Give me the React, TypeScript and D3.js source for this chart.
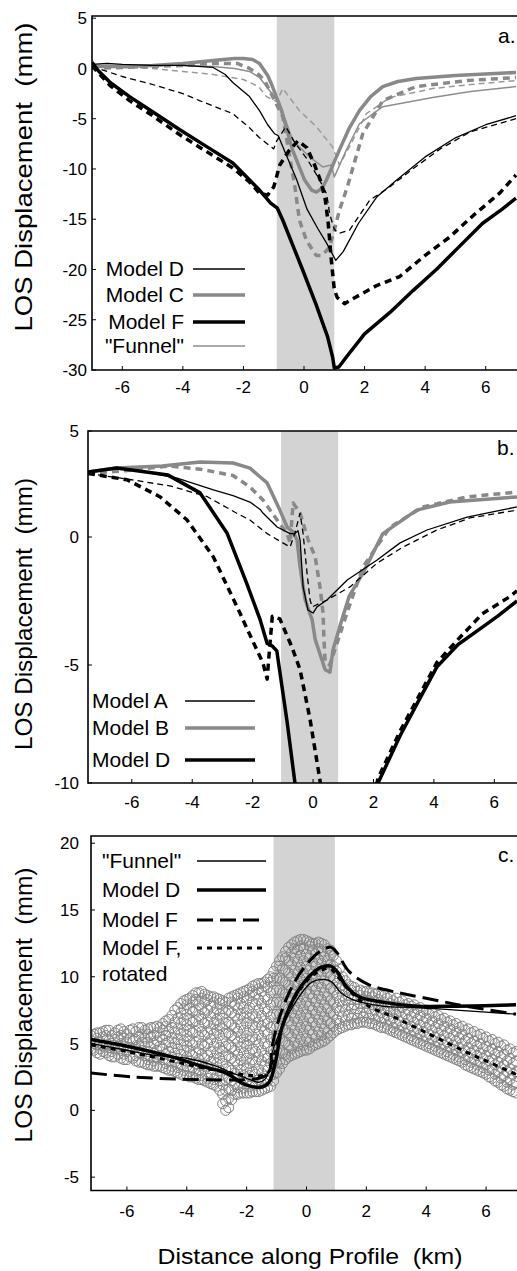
import React from 'react';
import * as d3 from 'd3';

type Pt = [number, number];
const FONT = '"Liberation Sans", Arial, Helvetica, sans-serif';

// ---------- ticks ----------
const xTicks = [-6, -4, -2, 0, 2, 4, 6];
const yTicksA = [5, 0, -5, -10, -15, -20, -25, -30];
const yTicksB = [5, 0, -5, -10];
const yTicksC = [20, 15, 10, 5, 0, -5];

// ---------- shaded zones (km) ----------
const shadeA: Pt = [-0.9, 1.0];
const shadeB: Pt = [-1.06, 0.83];
const shadeC: Pt = [-1.1, 0.95];

// ---------- panel a ----------
const aModelD: Pt[] = [[-7,0.4],[-6.5,0.5],[-6,0.4],[-5,0.3],[-4,0.3],[-3,0.1],[-2.6,-0.6],[-2.35,-1.4],[-1.8,-2.8],[-1.47,-4.2],[-1.2,-5.6],[-0.97,-6.5],[-0.85,-6.7],[-0.6,-8.5],[-0.25,-11],[0.1,-14],[0.45,-15.9],[0.75,-17.4],[1.05,-19.1],[1.3,-18.2],[1.8,-15.4],[2.4,-12.8],[3.06,-11.1],[4,-8.8],[5,-6.9],[6,-5.6],[7,-4.7]];
const aModelDdash: Pt[] = [[-7,0.2],[-6.5,-0.3],[-6,-0.8],[-5.1,-1.5],[-4,-2.5],[-3.45,-3.2],[-2.35,-4.5],[-1.8,-5.9],[-1.47,-6.9],[-1.0,-8.0],[-0.9,-7.2],[-0.6,-5.8],[-0.3,-7.4],[0.1,-9],[0.5,-11],[0.75,-12.5],[0.85,-14.5],[1.0,-16],[1.15,-16.4],[1.5,-16.1],[2.17,-13.1],[2.83,-11.8],[3.5,-10.2],[4.5,-8],[5.5,-6.3],[7,-5]];
const aModelC: Pt[] = [[-7,0.2],[-6,0.2],[-5,0.3],[-4,0.5],[-3,0.8],[-2.3,1.0],[-2,1.0],[-1.7,0.9],[-1.47,0.5],[-1.2,-0.7],[-1.04,-1.8],[-0.74,-4.2],[-0.38,-8.1],[0.02,-11.1],[0.25,-12.1],[0.41,-12.3],[0.6,-11.9],[0.74,-11.1],[1.17,-8.1],[1.5,-5.9],[1.83,-4.2],[2.2,-2.8],[2.6,-1.8],[3.1,-1.3],[3.7,-1.0],[5,-0.7],[7,-0.4]];
const aModelCdash: Pt[] = [[-7,0.0],[-6,0.1],[-5,0.2],[-4,0.3],[-3,0.5],[-2.2,0.5],[-1.8,0.0],[-1.5,-0.6],[-1.3,-1.2],[-0.97,-3.2],[-0.7,-4.8],[-0.3,-11.8],[-0.15,-15.1],[0.08,-17.1],[0.4,-18.6],[0.6,-18.6],[0.84,-17.8],[1.0,-16.1],[1.17,-14.1],[1.43,-11.8],[1.94,-6.5],[2.6,-3.2],[3.7,-1.8],[5.4,-1.2],[7,-0.9]];
const aModelF: Pt[] = [[-7,0.6],[-6.8,-0.2],[-6.4,-1.4],[-5.76,-2.8],[-5,-4.3],[-4.1,-6.1],[-3.2,-7.8],[-2.35,-9.4],[-1.47,-12.1],[-1.1,-13.4],[-0.88,-13.9],[-0.7,-15.1],[-0.05,-20],[0.4,-23.5],[0.78,-26.7],[0.95,-28.8],[1.0,-29.8],[1.15,-29.7],[1.4,-28.7],[2.0,-26.4],[2.83,-24.3],[3.6,-22.1],[4.37,-20],[5.1,-17.8],[5.9,-15.4],[6.5,-14.1],[7.0,-12.9]];
const aModelFdash: Pt[] = [[-7,0.3],[-6.8,-0.4],[-6.4,-1.7],[-5.76,-3.2],[-5,-4.7],[-4.1,-6.6],[-3.2,-8.3],[-2.35,-9.9],[-1.8,-11.3],[-1.47,-12.4],[-1.2,-12.6],[-1.0,-11.8],[-0.8,-9.6],[-0.5,-8.2],[-0.2,-7.2],[0.1,-7.9],[0.35,-9.6],[0.55,-11.2],[0.7,-13.0],[0.8,-15.4],[0.9,-19.0],[1.0,-22.0],[1.1,-22.8],[1.34,-23.4],[1.8,-22.6],[2.4,-21.6],[3.16,-20.7],[4.0,-18.6],[4.8,-16.8],[5.6,-14.6],[6.46,-12.4],[7.0,-10.6]];
const aFunnel: Pt[] = [[-7,0.3],[-5,0.3],[-4,0.3],[-3,0.2],[-2.3,0.0],[-1.8,-0.3],[-1.47,-0.9],[-1.14,-2.2],[-0.8,-3.5],[-0.38,-7.1],[0.18,-8.8],[0.62,-9.8],[0.9,-9.6],[1.0,-10.8],[1.4,-8.1],[1.83,-5.5],[2.6,-3.8],[4.25,-2.9],[5.5,-2.3],[7,-1.8]];
const aFunnelDash: Pt[] = [[-7,0.2],[-5,0.0],[-4,-0.3],[-3,-0.6],[-2,-1.1],[-1.5,-1.8],[-1.24,-2.8],[-0.9,-3.3],[-0.7,-2.0],[-0.15,-4.2],[0.41,-5.8],[0.94,-7.8],[1.17,-9.6],[1.5,-7.8],[2.06,-4.5],[2.83,-2.9],[4.25,-2.0],[5.5,-1.6],[7,-1.2]];

// ---------- panel b ----------
const bModelA: Pt[] = [[-7.45,3.07],[-6.5,3.25],[-5.5,3.05],[-4.5,2.78],[-3.3,2.22],[-2.65,1.95],[-2.09,1.65],[-1.75,1.3],[-1.66,1.13],[-1.19,0.47],[-0.76,0.16],[-0.6,0.16],[-0.5,0.3],[-0.43,-0.12],[-0.33,-1.95],[-0.17,-2.85],[0,-2.97],[0.13,-2.73],[0.46,-2.46],[1.13,-1.68],[2.12,-0.9],[2.88,-0.23],[3.77,0.33],[5.1,0.94],[6.75,1.42]];
const bModelAdash: Pt[] = [[-7.45,3.0],[-6,2.7],[-4.7,2.4],[-3.5,1.9],[-2.5,1.1],[-2.09,0.8],[-1.52,0.16],[-1.0,-0.23],[-0.76,-0.39],[-0.6,0.2],[-0.43,1.13],[-0.33,0.16],[-0.2,-1.41],[-0.1,-2.46],[-0.03,-2.73],[0.46,-2.46],[1.22,-1.95],[2.12,-1.02],[2.98,-0.39],[4.1,0.33],[5.2,0.9],[6.75,1.27]];
const bModelB: Pt[] = [[-7.45,3.07],[-6.5,3.25],[-5,3.35],[-3.74,3.54],[-2.65,3.49],[-2.09,3.25],[-1.75,2.83],[-1.52,2.55],[-1.1,1.27],[-0.86,0.47],[-0.66,0.24],[-0.53,-0.12],[-0.43,-1.17],[-0.26,-2.46],[-0.03,-3.24],[0.07,-4.0],[0.4,-5.2],[0.56,-5.3],[0.66,-4.4],[0.95,-3.24],[1.2,-2.3],[1.65,-1.41],[2.31,0.16],[3.43,1.27],[4.52,1.65],[6.75,1.89]];
const bModelBdash: Pt[] = [[-7.45,3.0],[-6,3.15],[-4.8,3.35],[-3.74,3.2],[-2.65,2.9],[-2.09,2.36],[-1.66,1.75],[-1.19,0.8],[-0.86,0.16],[-0.76,-0.23],[-0.66,1.6],[-0.43,1.13],[-0.16,-0.12],[0.07,-0.78],[0.23,-1.95],[0.33,-2.97],[0.36,-4.0],[0.4,-4.9],[0.55,-5.0],[0.75,-4.3],[1.12,-2.97],[1.65,-1.17],[2.55,0.47],[3.64,1.42],[5.1,1.89],[6.75,2.12]];
const bModelD: Pt[] = [[-7.45,3.07],[-6.5,3.25],[-4.8,2.92],[-3.74,2.08],[-2.85,0.19],[-2.2,-1.8],[-1.75,-3.24],[-1.52,-4.16],[-1.36,-4.25],[-1.2,-4.45],[-0.86,-7.4],[-0.6,-10],[-0.5,-11],[NaN,NaN],[1.95,-11],[2.15,-10],[2.88,-8.0],[3.5,-6.5],[4.1,-5.08],[4.8,-4.2],[5.63,-3.5],[6.1,-3.1],[6.75,-2.5]];
const bModelDdash: Pt[] = [[-7.45,3.0],[-6.16,2.7],[-5.07,1.9],[-4.17,0.8],[-3.3,-0.78],[-2.42,-2.97],[-2.32,-3.24],[-1.66,-4.92],[-1.52,-5.6],[-1.45,-4.5],[-1.35,-3.1],[-1.1,-3.2],[-0.7,-4.3],[-0.43,-5.2],[-0.1,-7.3],[0.23,-9.9],[0.3,-10.6],[NaN,NaN],[2.0,-10.6],[2.15,-9.8],[2.88,-7.8],[4.1,-4.9],[4.8,-4.0],[5.6,-3.0],[6.5,-2.34],[6.75,-2.1]];

// ---------- panel c ----------
const cFunnel: Pt[] = [[-7.2,5.0],[-6,4.5],[-5,4.1],[-4,3.9],[-3,3.3],[-2.5,2.8],[-2,2.4],[-1.6,2.1],[-1.4,2.3],[-1.25,3.0],[-1.15,4.3],[-0.69,6.8],[-0.25,8.5],[0.18,9.6],[0.59,9.8],[0.85,9.6],[1.15,8.8],[1.52,8.3],[2.53,7.8],[3.66,7.7],[5,7.5],[7,7.2]];
const cModelD: Pt[] = [[-7.2,5.3],[-6,4.8],[-4.5,4.0],[-3.5,3.3],[-2.7,2.8],[-2.02,1.9],[-1.49,1.75],[-1.25,2.1],[-1.02,3.8],[-0.82,6.2],[-0.35,8.7],[0.08,10.0],[0.48,10.7],[0.82,10.8],[1.02,10.4],[1.32,9.3],[1.76,8.5],[2.53,8.1],[3.67,7.8],[5,7.8],[7,7.9]];
const cModelF: Pt[] = [[-7.2,2.8],[-5.8,2.5],[-3.6,2.3],[-2,2.3],[-1.6,2.4],[-1.25,2.8],[-1.15,4.75],[-0.82,7.5],[-0.35,9.8],[0.15,11.3],[0.52,12.0],[0.82,12.2],[1.02,11.8],[1.42,10.4],[2.09,9.4],[3.09,8.8],[4.2,8.3],[5.33,7.8],[7,7.2]];
const cModelFrot: Pt[] = [[-7.2,4.9],[-6,4.4],[-4.5,3.7],[-3.5,3.2],[-2.5,2.8],[-1.8,2.6],[-1.5,2.6],[-1.25,2.9],[-1.1,4.0],[-0.85,6.0],[-0.35,8.6],[0.1,9.9],[0.5,10.5],[0.8,10.6],[1.05,10.0],[1.42,9.0],[2.0,7.9],[3.0,6.9],[4.2,5.6],[5.3,4.4],[6.0,3.7],[7.0,2.7]];

// observed data (columns: distance km, displacements mm)
const obsColsEven: [number, number[]][] = [
  [-7.2,[4.6,5.2,5.6]],[-7.0,[4.3,4.9,5.4,5.8]],[-6.8,[4.4,4.8,5.5,5.9]],[-6.6,[4.1,4.7,5.2,6.0]],
  [-6.4,[4.0,4.6,5.3,5.8]],[-6.2,[3.9,4.5,5.0,5.6,6.1]],[-6.0,[3.8,4.4,5.1,5.7]],[-5.8,[3.9,4.6,5.2,6.1]],
  [-5.6,[3.6,4.3,4.9,5.5,6.2]],[-5.4,[3.5,4.1,4.8,5.4,6.0]],[-5.2,[3.4,4.0,4.7,5.5,6.2]],[-5.0,[3.3,3.9,4.5,5.2,5.8,6.3]],
  [-4.8,[3.2,3.8,4.6,5.3,6.0,6.5]],[-4.6,[3.0,3.7,4.4,5.1,5.9,6.8]],[-4.4,[2.9,3.6,4.3,5.0,5.8,6.6,7.5]],
  [-4.2,[2.7,3.4,4.2,4.9,5.7,6.5,7.3,8.0]],[-4.0,[2.6,3.3,4.0,4.8,5.6,6.4,7.2,7.9,8.3]],
  [-3.8,[2.5,3.2,4.1,4.9,5.8,6.6,7.4,8.1,8.6]],[-3.6,[2.3,3.0,3.8,4.6,5.5,6.3,7.1,7.9,8.8]],
  [-3.4,[2.2,3.1,3.9,4.8,5.6,6.5,7.3,8.1,8.7]],[-3.2,[2.0,2.8,3.6,4.4,5.3,6.1,7.0,7.8,8.5]],
  [-3.0,[1.8,2.6,3.5,4.3,5.1,6.0,6.8,7.6,8.4]],[-2.8,[0.5,1.2,1.9,2.7,3.5,4.4,5.2,6.1,6.9,7.6,8.2]],
  [-2.6,[0.2,0.9,1.6,2.4,3.2,4.1,4.9,5.8,6.6,7.5,8.4]],[-2.4,[1.2,2.0,2.8,3.7,4.5,5.4,6.2,7.1,7.9,8.6]],
  [-2.2,[1.3,2.1,3.0,3.8,4.7,5.5,6.4,7.2,8.0,8.8]],[-2.0,[1.3,2.2,3.1,3.9,4.8,5.6,6.5,7.3,8.2,9.0]],
  [-1.8,[1.4,2.1,2.9,3.8,4.6,5.5,6.4,7.2,8.1,8.9,9.3]],[-1.6,[1.4,2.3,3.1,4.0,4.9,5.7,6.6,7.5,8.3,9.1,9.5]],
  [-1.4,[1.6,2.4,3.3,4.1,5.0,5.9,6.7,7.6,8.5,9.3,9.6]],[-1.2,[1.8,2.6,3.5,4.4,5.3,6.2,7.0,7.9,8.8,9.6,10.0]],
  [-1.0,[2.8,3.6,4.5,5.4,6.3,7.2,8.1,9.0,9.9,10.8]],[-0.8,[3.5,4.3,5.2,6.1,7.0,7.9,8.8,9.7,10.6,11.5]],
  [-0.6,[4.0,4.9,5.8,6.7,7.6,8.5,9.4,10.3,11.2,12.2]],[-0.4,[4.2,5.1,6.0,6.9,7.8,8.7,9.6,10.5,11.4,12.1,12.6]],
  [-0.2,[4.4,5.3,6.2,7.1,8.0,8.9,9.8,10.7,11.6,12.3,12.8]],[0.0,[4.5,5.4,6.3,7.2,8.1,9.0,9.9,10.8,11.7,12.7]],
  [0.2,[4.8,5.7,6.6,7.5,8.4,9.3,10.2,11.1,12.0,12.5]],[0.4,[5.0,5.9,6.8,7.7,8.6,9.5,10.4,11.3,12.1,12.6]],
  [0.6,[5.2,6.1,7.0,7.9,8.8,9.7,10.6,11.5,12.4]],[0.8,[5.6,6.5,7.3,8.2,9.1,10.0,10.9,11.6,12.0]],
  [1.0,[6.0,6.8,7.7,8.6,9.5,10.4,11.2]],[1.2,[6.2,7.0,7.8,8.6,9.4,10.0]],[1.4,[6.4,7.1,7.9,8.6,9.4]],
  [1.6,[6.5,7.2,7.9,8.6,9.2]],[1.8,[6.6,7.3,8.0,8.6,9.0]],[2.0,[6.6,7.3,8.0,8.5,8.9]],[2.2,[6.5,7.2,7.9,8.5,8.8]],
  [2.4,[6.3,7.0,7.7,8.3,8.8]],[2.6,[6.2,6.9,7.5,8.1,8.6]],[2.8,[6.0,6.7,7.4,8.0,8.5]],[3.0,[5.8,6.5,7.2,7.8,8.4]],
  [3.2,[5.6,6.3,7.0,7.7,8.2]],[3.4,[5.4,6.1,6.8,7.5,8.0]],[3.6,[5.2,5.9,6.6,7.3,7.9]],[3.8,[5.0,5.7,6.4,7.1,7.7]],
  [4.0,[4.8,5.5,6.2,6.9,7.5]],[4.2,[4.6,5.3,6.0,6.7,7.3]],[4.4,[4.4,5.1,5.8,6.5,7.1]],[4.6,[4.2,4.9,5.6,6.3,6.9]],
  [4.8,[4.0,4.7,5.4,6.1,6.7]],[5.0,[3.8,4.5,5.2,5.9,6.5]],[5.2,[3.6,4.3,5.0,5.7,6.3]],[5.4,[3.3,4.0,4.7,5.4,6.1]],
  [5.6,[3.1,3.8,4.5,5.2,5.9]],[5.8,[2.9,3.6,4.3,5.0,5.7]],[6.0,[2.7,3.4,4.1,4.8,5.5]],[6.2,[2.4,3.1,3.8,4.6,5.3]],
  [6.4,[2.1,2.9,3.6,4.4,5.1]],[6.6,[1.8,2.6,3.4,4.2,4.9]],[6.8,[1.5,2.3,3.1,3.9,4.6]],[7.0,[1.3,2.1,2.9,3.7,4.4]],
];
const obsColsOdd: [number, number[]][] = [
  [-7.1,[4.5,5.0,5.7]],[-6.9,[4.2,4.6,5.1,5.8]],[-6.7,[4.3,4.9,5.6,6.0]],[-6.5,[4.0,4.4,5.0,5.6]],
  [-6.3,[4.2,4.8,5.5,6.0]],[-6.1,[3.8,4.2,4.8,5.4,5.9]],[-5.9,[4.0,4.7,5.4,6.0]],[-5.7,[3.7,4.1,4.7,5.3,5.9]],
  [-5.5,[3.6,4.5,5.1,5.7,6.2]],[-5.3,[3.4,3.8,4.4,5.1,5.7,6.1]],[-5.1,[3.3,3.7,4.3,5.0,5.6,6.2]],[-4.9,[3.3,4.1,4.8,5.5,6.2]],
  [-4.7,[3.1,3.5,4.2,5.0,5.6,6.3,6.7]],[-4.5,[3.0,3.3,4.0,4.7,5.4,6.2,7.1]],[-4.3,[2.8,3.2,3.9,4.6,5.3,6.1,6.9,7.7]],
  [-4.1,[2.6,3.0,3.7,4.5,5.2,6.0,6.8,7.6,8.2]],[-3.9,[2.5,2.9,3.7,4.4,5.2,6.0,6.8,7.6,8.4]],
  [-3.7,[2.4,2.7,3.5,4.3,5.1,5.9,6.7,7.5,8.3,8.8]],[-3.5,[2.3,2.6,3.4,4.2,5.0,5.9,6.8,7.6,8.4,8.9]],
  [-3.3,[2.1,2.4,3.3,4.1,5.0,5.8,6.6,7.5,8.3,8.6]],[-3.1,[1.9,2.3,3.1,3.9,4.8,5.7,6.5,7.3,8.1,8.5]],
  [-2.9,[1.5,2.2,3.0,3.9,4.7,5.6,6.4,7.2,8.0,8.3]],[-2.7,[0.0,0.7,1.5,2.3,3.1,4.0,4.8,5.7,6.5,7.3,8.1]],
  [-2.5,[0.8,1.5,2.2,3.0,3.9,4.7,5.6,6.4,7.3,8.1,8.5]],[-2.3,[1.2,1.7,2.5,3.4,4.2,5.1,5.9,6.8,7.6,8.4,8.7]],
  [-2.1,[1.3,1.7,2.6,3.4,4.3,5.1,6.0,6.9,7.7,8.5,8.9]],[-1.9,[1.3,1.8,2.6,3.5,4.3,5.2,6.0,6.9,7.7,8.6,9.1]],
  [-1.7,[1.4,1.9,2.7,3.6,4.4,5.3,6.2,7.0,7.9,8.7,9.4]],[-1.5,[1.5,2.0,2.8,3.7,4.5,5.4,6.3,7.1,8.0,8.9,9.5]],
  [-1.3,[1.7,2.2,3.0,3.9,4.8,5.7,6.5,7.4,8.3,9.2,9.8]],[-1.1,[2.2,2.7,3.6,4.5,5.4,6.3,7.2,8.1,9.0,9.9,10.4]],
  [-0.9,[3.1,3.6,4.5,5.4,6.3,7.2,8.1,9.0,9.9,10.8,11.2]],[-0.7,[3.8,4.2,5.1,6.0,6.9,7.8,8.7,9.6,10.5,11.4,11.9]],
  [-0.5,[4.1,4.6,5.5,6.4,7.3,8.2,9.1,10.0,10.9,11.8,12.4]],[-0.3,[4.3,4.8,5.7,6.6,7.5,8.4,9.3,10.2,11.1,12.0,12.7]],
  [-0.1,[4.5,4.9,5.8,6.7,7.6,8.5,9.4,10.3,11.2,12.1,12.8]],[0.1,[4.6,5.1,6.0,6.9,7.8,8.7,9.6,10.5,11.4,12.3,12.6]],
  [0.3,[4.9,5.4,6.3,7.2,8.1,9.0,9.9,10.8,11.7,12.5]],[0.5,[5.1,5.6,6.5,7.4,8.3,9.2,10.1,11.0,11.9,12.5]],
  [0.7,[5.4,5.8,6.7,7.6,8.5,9.4,10.3,11.2,12.1]],[0.9,[5.8,6.3,7.2,8.1,9.0,9.9,10.8,11.6]],
  [1.1,[6.1,6.5,7.4,8.2,9.1,9.9,10.6]],[1.3,[6.3,6.7,7.5,8.3,9.1,9.7]],[1.5,[6.4,6.9,7.6,8.3,9.0,9.3]],
  [1.7,[6.5,6.9,7.6,8.3,8.9]],[1.9,[6.6,7.0,7.7,8.3,8.9]],[2.1,[6.5,6.9,7.6,8.2,8.8]],[2.3,[6.4,6.8,7.5,8.1,8.7]],
  [2.5,[6.2,6.6,7.3,7.9,8.6]],[2.7,[6.1,6.4,7.1,7.7,8.4]],[2.9,[5.9,6.2,6.9,7.5,8.2]],[3.1,[5.7,6.0,6.7,7.4,8.1]],
  [3.3,[5.5,5.8,6.5,7.2,7.9]],[3.5,[5.3,5.6,6.3,7.0,7.8]],[3.7,[5.1,5.4,6.1,6.8,7.6]],[3.9,[4.9,5.2,5.9,6.6,7.4]],
  [4.1,[4.7,5.0,5.7,6.4,7.2]],[4.3,[4.5,4.8,5.5,6.2,7.0]],[4.5,[4.3,4.6,5.3,6.0,6.8]],[4.7,[4.1,4.4,5.1,5.8,6.6]],
  [4.9,[3.9,4.2,4.9,5.6,6.4]],[5.1,[3.7,4.0,4.7,5.4,6.2]],[5.3,[3.4,3.8,4.5,5.2,6.0]],[5.5,[3.2,3.6,4.3,5.0,5.8]],
  [5.7,[3.0,3.4,4.1,4.8,5.6]],[5.9,[2.8,3.2,3.9,4.6,5.4]],[6.1,[2.5,3.0,3.7,4.4,5.2]],[6.3,[2.2,2.7,3.4,4.2,5.0]],
  [6.5,[1.9,2.4,3.2,4.0,4.8]],[6.7,[1.6,2.1,2.9,3.7,4.5]],[6.9,[1.4,1.9,2.7,3.5,4.3]],
];

// ---------- styles ----------
type St = { stroke: string; w: number; dash?: string };
const thinK: St = { stroke: '#000', w: 1.3 };
const thinKd: St = { stroke: '#000', w: 1.3, dash: '6,4' };
const thickK: St = { stroke: '#000', w: 3.5 };
const thickKd: St = { stroke: '#000', w: 3.5, dash: '7,5' };
const thickG: St = { stroke: '#898989', w: 3.5 };
const thickGd: St = { stroke: '#898989', w: 3.5, dash: '7,5' };
const thinG: St = { stroke: '#8e8e8e', w: 1.5 };
const thinGd: St = { stroke: '#999', w: 1.5, dash: '6,4' };
const longK: St = { stroke: '#000', w: 3, dash: '16,7' };
const shortK: St = { stroke: '#000', w: 3, dash: '5,5' };

interface PanelProps {
  id: string;
  xs: d3.ScaleLinear<number, number>;
  ys: d3.ScaleLinear<number, number>;
  top: number; bottom: number; left: number; right: number;
  yTicks: number[];
  shade: Pt;
  series: { data: Pt[]; st: St }[];
  smooth?: boolean;
  scatter?: [number, number[]][];
  legend: { label: string; st: St; extra?: string }[];
  legendAnchor: 'start' | 'end';
  legendTextX: number; legendLine: [number, number]; legendRows: number[];
  letter: string; letterPos: Pt;
  titleY: number; titleLen: number;
  yLabelX: number; xLabelDy: number;
}

function Panel(p: PanelProps) {
  const { xs, ys } = p;
  const gen = d3.line<Pt>()
    .defined(d => !isNaN(d[0]) && !isNaN(d[1]))
    .x(d => xs(d[0])).y(d => ys(d[1]))
    .curve(p.smooth ? d3.curveCatmullRom.alpha(0.5) : d3.curveLinear);
  const clip = `clip-${p.id}`;
  return (
    <g>
      <defs>
        <clipPath id={clip}>
          <rect x={p.left} y={p.top} width={p.right - p.left} height={p.bottom - p.top} />
        </clipPath>
      </defs>
      <rect x={xs(p.shade[0])} y={p.top} width={xs(p.shade[1]) - xs(p.shade[0])} height={p.bottom - p.top} fill="#d3d3d3" />
      <g clipPath={`url(#${clip})`}>
        {p.scatter && p.scatter.map(([x, vals], i) =>
          vals.map((v, j) => (
            <circle key={`${i}-${j}`} cx={xs(x)} cy={ys(v)} r={5} fill="none" stroke="#858585" strokeWidth={1} />
          )))}
        {p.series.map((s, i) => (
          <path key={i} d={gen(s.data) || ''} fill="none" stroke={s.st.stroke} strokeWidth={s.st.w}
            strokeDasharray={s.st.dash} strokeLinejoin="round" />
        ))}
      </g>
      <path d={`M${p.right},${p.top}H${p.left}V${p.bottom}H${p.right}`} fill="none" stroke="#000" strokeWidth={1.6} />
      {xTicks.map(t => (
        <g key={t}>
          <line x1={xs(t)} x2={xs(t)} y1={p.bottom} y2={p.bottom - 4} stroke="#000" strokeWidth={1} />
          <text x={xs(t)} y={p.bottom + p.xLabelDy} textAnchor="middle" fontSize={17} fontFamily={FONT}>{t}</text>
        </g>
      ))}
      {p.yTicks.map(t => (
        <g key={t}>
          <line x1={p.left} x2={p.left + 4} y1={ys(t)} y2={ys(t)} stroke="#000" strokeWidth={1} />
          <text x={p.yLabelX} y={ys(t)} dy="0.36em" textAnchor="end" fontSize={17} fontFamily={FONT}>{t}</text>
        </g>
      ))}
      {p.legend.map((l, i) => (
        <g key={i}>
          <text x={p.legendTextX} y={p.legendRows[i] + 7} textAnchor={p.legendAnchor} fontSize={21} fontFamily={FONT}>{l.label}</text>
          <line x1={p.legendLine[0]} x2={p.legendLine[1]} y1={p.legendRows[i]} y2={p.legendRows[i]}
            stroke={l.st.stroke} strokeWidth={l.st.w} strokeDasharray={l.st.dash} />
          {l.extra && (
            <text x={p.legendTextX} y={p.legendRows[i] + 33} textAnchor={p.legendAnchor} fontSize={21} fontFamily={FONT}>{l.extra}</text>
          )}
        </g>
      ))}
      <text x={p.letterPos[0]} y={p.letterPos[1]} fontSize={21} fontFamily={FONT}>{p.letter}</text>
      <text transform={`translate(32,${p.titleY}) rotate(-90)`} textAnchor="middle" fontSize={24} fontFamily={FONT}
        textLength={p.titleLen} lengthAdjust="spacingAndGlyphs" style={{ whiteSpace: 'pre' }}>
        {'LOS Displacement  (mm)'}
      </text>
    </g>
  );
}

export default function App() {
  const xA = d3.scaleLinear().domain([-7, 7]).range([92, 516]);
  const yA = d3.scaleLinear().domain([-30, 5]).range([370, 18.2]);
  const xB = d3.scaleLinear().domain([-7.45, 6.75]).range([88, 517]);
  const yB = d3.scaleLinear().domain([-10, -5, 0, 5]).range([783, 665, 537, 431]);
  const xC = d3.scaleLinear().domain([-7.2, 7.0]).range([91, 516]);
  const yC = d3.scaleLinear().domain([-6, 20.5]).range([1190.5, 836.5]);
  const obs = [...obsColsEven, ...obsColsOdd];

  return (
    <svg width={517} height={1271} style={{ position: 'absolute', left: 0, top: 0, background: '#fff' }}>
      <rect width={517} height={1271} fill="#fff" />
      <Panel id="a" xs={xA} ys={yA} top={16} bottom={370} left={92} right={517}
        yTicks={yTicksA} shade={shadeA}
        series={[
          { data: aFunnelDash, st: thinGd }, { data: aFunnel, st: thinG },
          { data: aModelCdash, st: thickGd }, { data: aModelC, st: thickG },
          { data: aModelDdash, st: thinKd }, { data: aModelD, st: thinK },
          { data: aModelFdash, st: thickKd }, { data: aModelF, st: thickK },
        ]}
        legend={[
          { label: 'Model D', st: thinK }, { label: 'Model C', st: thickG },
          { label: 'Model F', st: thickK }, { label: '"Funnel"', st: thinG },
        ]}
        legendAnchor="end" legendTextX={184} legendLine={[193, 245]} legendRows={[269, 295, 322, 346]}
        letter="a." letterPos={[498, 43]} titleY={177} titleLen={309} yLabelX={87} xLabelDy={23} />
      <Panel id="b" xs={xB} ys={yB} top={431} bottom={783} left={88} right={517}
        yTicks={yTicksB} shade={shadeB}
        series={[
          { data: bModelBdash, st: thickGd }, { data: bModelB, st: thickG },
          { data: bModelAdash, st: thinKd }, { data: bModelA, st: thinK },
          { data: bModelDdash, st: thickKd }, { data: bModelD, st: thickK },
        ]}
        legend={[
          { label: 'Model A', st: thinK }, { label: 'Model B', st: thickG }, { label: 'Model D', st: thickK },
        ]}
        legendAnchor="start" legendTextX={92} legendLine={[185, 255]} legendRows={[701, 728, 760]}
        letter="b." letterPos={[497, 455]} titleY={614} titleLen={272} yLabelX={79} xLabelDy={25} />
      <Panel id="c" xs={xC} ys={yC} top={836} bottom={1190.5} left={91} right={517}
        yTicks={yTicksC} shade={shadeC} smooth scatter={obs}
        series={[
          { data: cFunnel, st: thinK }, { data: cModelD, st: thickK },
          { data: cModelF, st: longK }, { data: cModelFrot, st: shortK },
        ]}
        legend={[
          { label: '"Funnel"', st: thinK }, { label: 'Model D', st: thickK },
          { label: 'Model F', st: longK }, { label: 'Model F,', st: shortK, extra: 'rotated' },
        ]}
        legendAnchor="start" legendTextX={102} legendLine={[197, 266]} legendRows={[861, 890, 920, 948]}
        letter="c." letterPos={[498, 862]} titleY={1005} titleLen={275} yLabelX={79} xLabelDy={26} />
      <text x={310} y={1264} textAnchor="middle" fontSize={22} fontFamily={FONT} textLength={305}
        lengthAdjust="spacingAndGlyphs" style={{ whiteSpace: 'pre' }}>
        {'Distance along Profile  (km)'}
      </text>
    </svg>
  );
}
